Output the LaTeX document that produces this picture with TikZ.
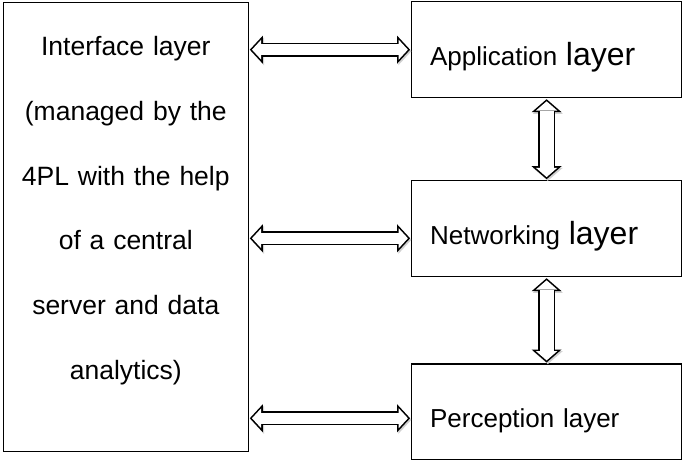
\documentclass[tikz,border=0pt]{standalone}
\usepackage{fontspec}
\setmainfont{Liberation Sans}
\usetikzlibrary{positioning,arrows.meta}

\begin{document}
\begin{tikzpicture}[x=1pt,y=-1pt,node distance=80pt,
  layer/.style={draw,line width=1.2pt,outer sep=1.5pt,inner sep=0pt,minimum height=96pt},
  side/.style={layer,minimum width=270pt,text width=233pt,inner xsep=18.5pt,align=left,
    text height=32pt,text depth=0pt,font=\fontsize{26}{31}\selectfont},
  hlink/.style={line width=14pt,
    {Triangle[length=13pt,width=28pt,line width=0pt]}-{Triangle[length=13pt,width=28pt,line width=0pt]},
    preaction={draw=black!18,transform canvas={shift={(1.2pt,-1.6pt)}}},
    postaction={draw=white,line width=10.8pt,shorten <=2.2pt,shorten >=2.2pt,
      {Triangle[length=9.2pt,width=19.9pt,line width=0pt]}-{Triangle[length=9.2pt,width=19.9pt,line width=0pt]}}},
  vlink/.style={line width=17pt,
    {Triangle[length=13pt,width=30pt,line width=0pt]}-{Triangle[length=13pt,width=30pt,line width=0pt]},
    preaction={draw=black!18,transform canvas={shift={(1.2pt,-1.6pt)}}},
    postaction={draw=white,line width=13.8pt,shorten <=2.1pt,shorten >=2.1pt,
      {Triangle[length=9.3pt,width=21.4pt,line width=0pt]}-{Triangle[length=9.3pt,width=21.4pt,line width=0pt]}}}]
\useasboundingbox (0,0) rectangle (683,461);

\node[layer,minimum width=245pt,minimum height=449pt,text width=235pt,align=center,
  text height=20pt,text depth=363.4pt,font=\fontsize{26.5}{64.8}\selectfont] (iface) at (125.8,227.2)
  {Interface layer\\(managed by the\\4PL with the help\\of a central\\server and data\\analytics)};

\node[side] (app) at (546.6,49.7) {Application {\fontsize{32}{38}\selectfont layer}};
\node[side] (net) [below=80pt of app] {Networking {\fontsize{32}{38}\selectfont layer}};
\node[side,minimum height=95.3pt] (perc) [below=84.3pt of net] {Perception layer};

\coordinate (netport) at ([yshift=-9.6pt]net.west);
\coordinate (percport) at ([yshift=-6.6pt]perc.west);

\draw[hlink] (iface.east |- app.west) -- (app.west);
\draw[hlink] (iface.east |- netport) -- (netport);
\draw[hlink] (iface.east |- percport) -- (percport);
\draw[vlink] (app.south) -- (net.north);
\draw[vlink] (net.south) -- (perc.north);
\end{tikzpicture}
\end{document}
